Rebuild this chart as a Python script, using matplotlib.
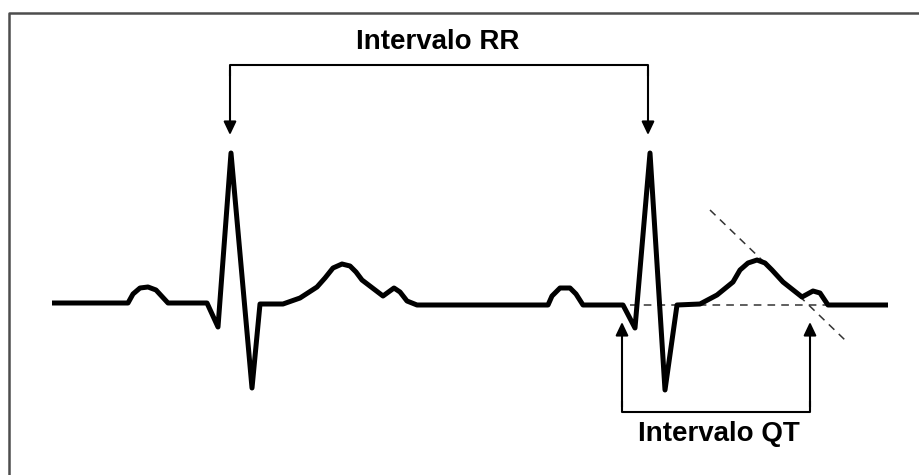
import matplotlib
matplotlib.use("Agg")
import matplotlib.pyplot as plt

# ECG trace (pixel coordinates of the reference, y grows downward)
ecg_x = [52, 128, 133, 140, 148, 156, 168, 207, 218, 231, 252, 260, 283, 300, 317,
         325, 333, 342, 350, 356, 362, 383, 394, 400, 407, 417, 548, 552, 560, 570, 576, 583,
         623, 635, 650, 665, 677, 700, 717, 733, 740, 748, 757, 765, 772, 783, 802, 813, 820,
         828, 888]
ecg_y = [303, 303, 294, 288, 287, 290, 303, 303, 327, 153, 388, 304, 304, 298, 287,
         278, 268, 264, 266, 272, 280, 296, 288, 292, 301, 305, 305, 296, 288, 288, 294, 305,
         305, 328, 153, 390, 305, 304, 295, 282, 270, 263, 260, 263, 270, 282, 297, 291, 293,
         305, 305]

# dashed construction lines
base_x = [630, 830]
base_y = [305, 305]
tang_x = [710, 845]
tang_y = [210, 340]

# RR bracket
rr_x = [230, 648]
rr_bracket_y = 65
rr_tip_y = 135
rr_label = "Intervalo RR"
rr_label_pos = (438, 42)

# QT bracket
qt_x = [622, 810]
qt_bracket_y = 412
qt_tip_y = 322
qt_label = "Intervalo QT"
qt_label_pos = (719, 434)

fig = plt.figure(figsize=(9.2, 4.75), dpi=100)
ax = fig.add_axes([0, 0, 1, 1])
ax.set_xlim(0, 920)
ax.set_ylim(475, 0)
ax.axis("off")

# partial frame (top and left edges)
ax.plot([9, 9, 920], [475, 13, 13], color="#4d4d4d", lw=1.8, solid_capstyle="butt")

ax.plot(ecg_x, ecg_y, color="black", lw=3.6, solid_joinstyle="round",
        solid_capstyle="butt", zorder=3)

ax.plot(base_x, base_y, color="#333333", lw=1.1, ls=(0, (5, 4)), zorder=2)
ax.plot(tang_x, tang_y, color="#333333", lw=1.1, ls=(0, (5, 4)), zorder=2)

arrow_kw = dict(arrowstyle="-|>,head_length=0.8,head_width=0.38", color="black",
                lw=1.5, shrinkA=0, shrinkB=0)

# RR
ax.plot([rr_x[0], rr_x[0], rr_x[1], rr_x[1]],
        [rr_bracket_y + 10, rr_bracket_y, rr_bracket_y, rr_bracket_y + 10],
        color="black", lw=1.5)
for x in rr_x:
    ax.annotate("", xy=(x, rr_tip_y), xytext=(x, rr_bracket_y + 5), arrowprops=arrow_kw)
ax.text(*rr_label_pos, rr_label, ha="center", va="center", fontsize=20,
        fontweight="bold", family="Liberation Sans")

# QT
ax.plot([qt_x[0], qt_x[0], qt_x[1], qt_x[1]],
        [qt_bracket_y - 10, qt_bracket_y, qt_bracket_y, qt_bracket_y - 10],
        color="black", lw=1.5)
for x in qt_x:
    ax.annotate("", xy=(x, qt_tip_y), xytext=(x, qt_bracket_y - 5), arrowprops=arrow_kw)
ax.text(*qt_label_pos, qt_label, ha="center", va="center", fontsize=20,
        fontweight="bold", family="Liberation Sans")

fig.savefig("out.png", dpi=100)
